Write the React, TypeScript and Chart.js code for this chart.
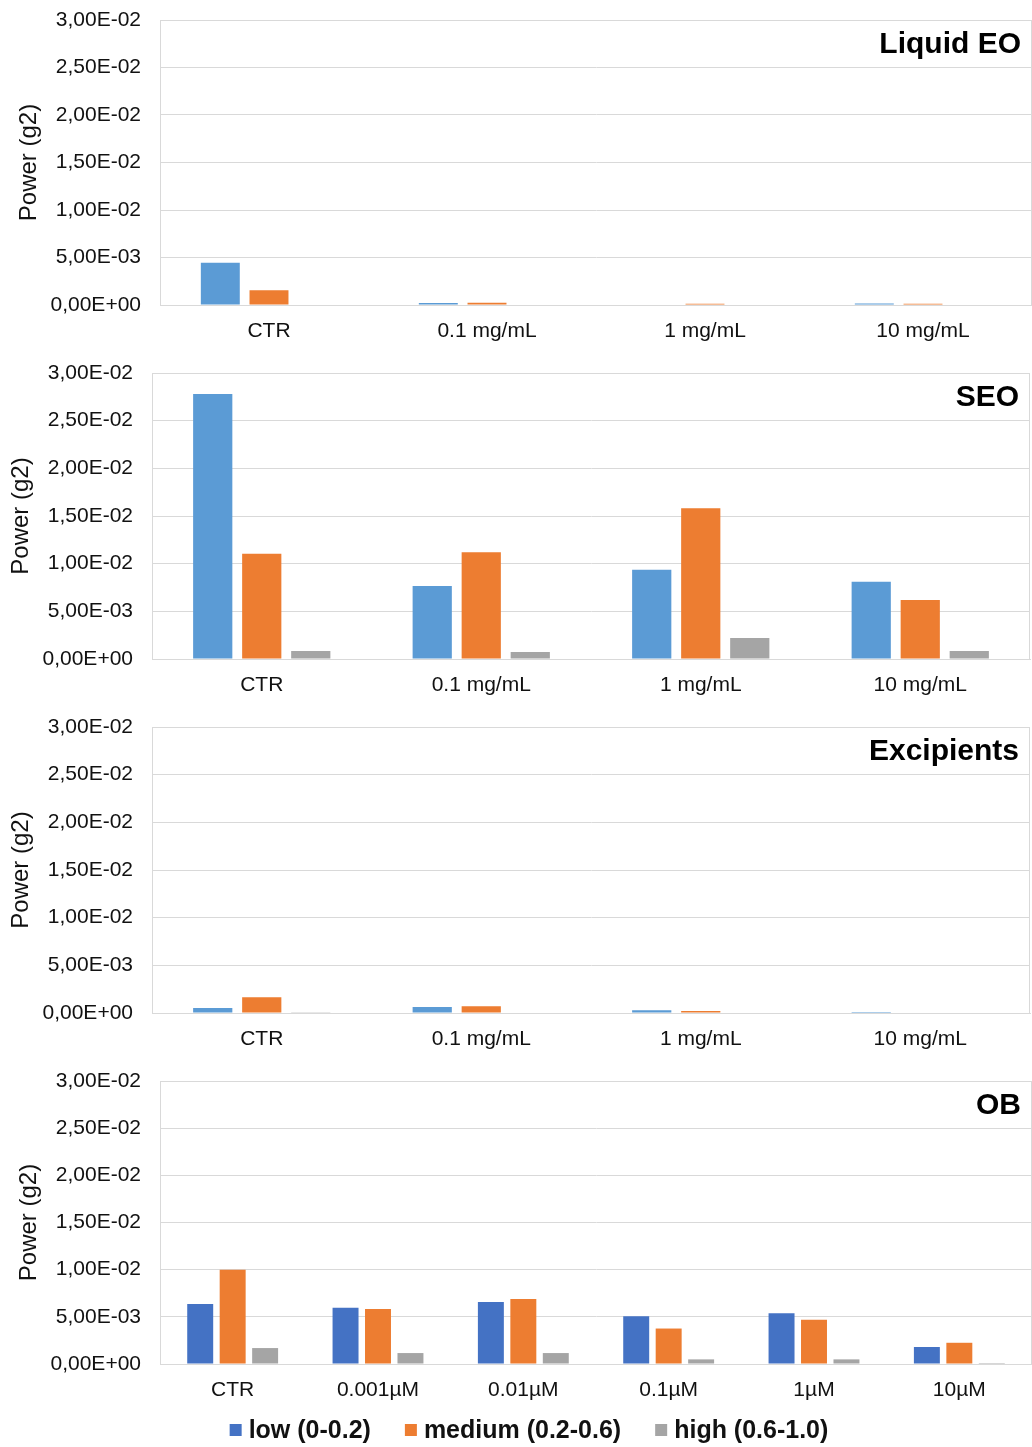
import React, { useEffect, useRef } from "react";
import { Chart, registerables } from "chart.js";

Chart.register(...registerables);

// ---------- data ----------
const doseCategories = ["CTR", "0.1 mg/mL", "1 mg/mL", "10 mg/mL"];
const obCategories = ["CTR", "0.001µM", "0.01µM", "0.1µM", "1µM", "10µM"];
const seriesNames = ["low (0-0.2)", "medium (0.2-0.6)", "high (0.6-1.0)"];
const yTickLabels = ["0,00E+00", "5,00E-03", "1,00E-02", "1,50E-02", "2,00E-02", "2,50E-02", "3,00E-02"];
const panelTitles = ["Liquid EO", "SEO", "Excipients", "OB"];

const liquidLow = [4.45e-3, 0.2e-3, 0.06e-3, 0.17e-3];
const liquidMedium = [1.55e-3, 0.25e-3, 0.14e-3, 0.14e-3];
const liquidHigh = [0, 0, 0, 0];

const seoLow = [27.8e-3, 7.65e-3, 9.37e-3, 8.1e-3];
const seoMedium = [11.05e-3, 11.2e-3, 15.8e-3, 6.18e-3];
const seoHigh = [0.84e-3, 0.74e-3, 2.2e-3, 0.84e-3];

const excLow = [0.53e-3, 0.63e-3, 0.28e-3, 0.1e-3];
const excMedium = [1.65e-3, 0.7e-3, 0.2e-3, 0];
const excHigh = [0.07e-3, 0, 0, 0];

const obLow = [6.37e-3, 5.95e-3, 6.58e-3, 5.07e-3, 5.39e-3, 1.8e-3];
const obMedium = [10.0e-3, 5.84e-3, 6.9e-3, 3.76e-3, 4.68e-3, 2.25e-3];
const obHigh = [1.69e-3, 1.16e-3, 1.16e-3, 0.49e-3, 0.49e-3, 0.1e-3];

// ---------- styling ----------
const FONT = "'Liberation Sans', Arial, sans-serif";
const TEXT = "#111111";
const GRID = "#d9d9d9";
const BLUE_LIGHT = "#5B9BD5";
const BLUE_DARK = "#4472C4";
const ORANGE = "#ED7D31";
const GRAY = "#A5A5A5";

type Panel = {
  title: string;
  categories: string[];
  low: number[];
  medium: number[];
  high: number[];
  lowColor: string;
  top: number;
  height: number;
  yWidth: number;
  rightPad: number;
  yTitlePad: number;
  xHeight: number;
  bottomPad: number;
  legend: boolean;
};

const panels: Panel[] = [
  { title: panelTitles[0], categories: doseCategories, low: liquidLow, medium: liquidMedium, high: liquidHigh, lowColor: BLUE_LIGHT, top: 0, height: 353, yWidth: 160, rightPad: 0, yTitlePad: 15, xHeight: 48, bottomPad: 0, legend: false },
  { title: panelTitles[1], categories: doseCategories, low: seoLow, medium: seoMedium, high: seoHigh, lowColor: BLUE_LIGHT, top: 353, height: 354, yWidth: 152, rightPad: 2, yTitlePad: 7, xHeight: 48, bottomPad: 0, legend: false },
  { title: panelTitles[2], categories: doseCategories, low: excLow, medium: excMedium, high: excHigh, lowColor: BLUE_LIGHT, top: 707, height: 354, yWidth: 152, rightPad: 2, yTitlePad: 7, xHeight: 48, bottomPad: 0, legend: false },
  { title: panelTitles[3], categories: obCategories, low: obLow, medium: obMedium, high: obHigh, lowColor: BLUE_DARK, top: 1061, height: 386, yWidth: 160, rightPad: 0, yTitlePad: 15, xHeight: 41, bottomPad: 42, legend: true },
];

const frameTitlePlugin = {
  id: "frameTitle",
  beforeDatasetsDraw(chart: any) {
    const { ctx, chartArea } = chart;
    ctx.save();
    ctx.strokeStyle = GRID;
    ctx.lineWidth = 1;
    ctx.strokeRect(Math.round(chartArea.left) + 0.5, Math.round(chartArea.top) + 0.5,
      Math.round(chartArea.right - chartArea.left) - 1, Math.round(chartArea.bottom - chartArea.top));
    ctx.restore();
  },
  afterDraw(chart: any) {
    const { ctx, chartArea } = chart;
    const opts = chart.options.plugins.frameTitle || {};
    ctx.save();
    if (opts.text) {
      ctx.font = `bold 30px ${FONT}`;
      ctx.fillStyle = "#000";
      ctx.textAlign = "right";
      ctx.textBaseline = "middle";
      ctx.fillText(opts.text, chartArea.right - 11, chartArea.top + 25);
    }
    if (opts.legend) {
      // custom legend below the x axis
      ctx.font = `bold 25px ${FONT}`;
      ctx.textBaseline = "middle";
      ctx.textAlign = "left";
      const box = 12, boxGap = 7, itemGap = 34;
      const items = chart.data.datasets.map((d: any) => ({ label: d.label, color: d.backgroundColor, w: ctx.measureText(d.label).width }));
      const total = items.reduce((s: number, it: any) => s + box + boxGap + it.w, 0) + itemGap * (items.length - 1);
      let x = chart.width / 2 + 13 - total / 2;
      const y = chart.height - 17;
      for (const it of items) {
        ctx.fillStyle = it.color;
        ctx.fillRect(x, y - box / 2, box, box);
        x += box + boxGap;
        ctx.fillStyle = TEXT;
        ctx.fillText(it.label, x, y + 1);
        x += it.w + itemGap;
      }
    }
    ctx.restore();
  },
};

function PanelChart({ p }: { p: Panel }) {
  const ref = useRef<HTMLCanvasElement | null>(null);
  useEffect(() => {
    if (!ref.current) return;
    const chart = new Chart(ref.current, {
      type: "bar",
      data: {
        labels: p.categories,
        datasets: [
          { label: seriesNames[0], data: p.low, backgroundColor: p.lowColor, categoryPercentage: 0.67, barPercentage: 0.8 },
          { label: seriesNames[1], data: p.medium, backgroundColor: ORANGE, categoryPercentage: 0.67, barPercentage: 0.8 },
          { label: seriesNames[2], data: p.high, backgroundColor: GRAY, categoryPercentage: 0.67, barPercentage: 0.8 },
        ],
      },
      options: {
        responsive: false,
        animation: false,
        devicePixelRatio: 1,
        layout: { padding: { top: 20, right: p.rightPad, left: 0, bottom: p.bottomPad } },
        plugins: {
          frameTitle: { text: p.title, legend: p.legend },
          tooltip: { enabled: false },
          legend: { display: false },
        } as any,
        scales: {
          x: {
            grid: { display: false, drawTicks: false },
            border: { display: true, color: GRID },
            ticks: { color: TEXT, font: { family: FONT, size: 21 }, padding: 14, maxRotation: 0 },
            afterFit: (s: any) => { s.height = p.xHeight; },
          },
          y: {
            min: 0,
            max: 0.03,
            grid: { color: GRID, drawTicks: false },
            border: { display: true, color: GRID },
            ticks: {
              stepSize: 0.005,
              color: TEXT,
              font: { family: FONT, size: 21 },
              padding: 19,
              callback: (_v: any, i: number) => yTickLabels[i],
            },
            title: {
              display: true,
              text: "Power (g2)",
              color: TEXT,
              font: { family: FONT, size: 24 },
              padding: { top: p.yTitlePad, bottom: 0 },
            },
            afterFit: (s: any) => {
              s.width = p.yWidth;
              s.paddingTop = 0;
              s.paddingBottom = 0;
            },
          },
        },
      },
      plugins: [frameTitlePlugin],
    });
    return () => chart.destroy();
  }, [p]);
  return (
    <canvas
      ref={ref}
      width={1032}
      height={p.height}
      style={{ position: "absolute", left: 0, top: p.top, width: 1032, height: p.height, display: "block" }}
    />
  );
}

export default function App() {
  return (
    <div style={{ position: "absolute", left: 0, top: 0, width: 1032, height: 1447, background: "#fff" }}>
      {panels.map((p, i) => (
        <PanelChart key={i} p={p} />
      ))}
    </div>
  );
}
